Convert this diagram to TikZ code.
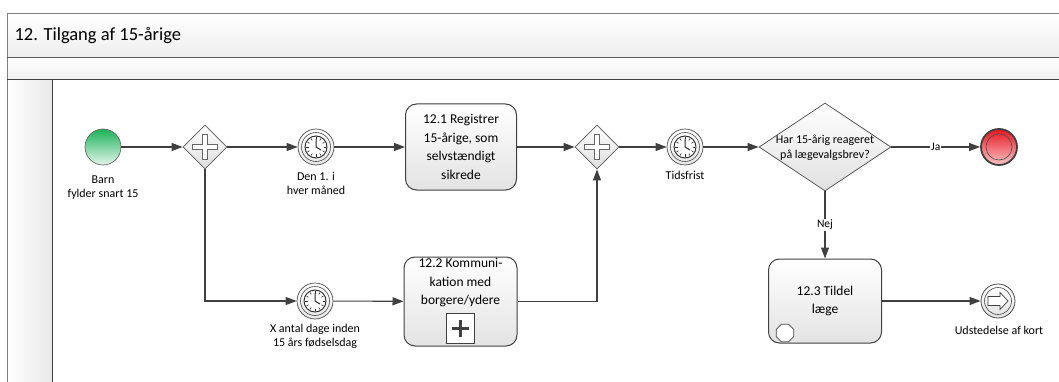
\documentclass[tikz,border=0pt]{standalone}
\usepackage{fontspec}
\setmainfont{Carlito}
\usepackage{xcolor}
\usetikzlibrary{arrows.meta,positioning,shapes.geometric}
\definecolor{startgreen}{RGB}{28,178,88}
\definecolor{endred}{RGB}{232,20,30}

\begin{document}
\begin{tikzpicture}[x=1pt,y=-1pt,
    flow/.style={-{Triangle[length=11pt,width=8pt]},line width=1.1pt,draw=black!75},
    task/.style={draw=black!75,line width=1pt,rounded corners=11pt,top color=white,bottom color=black!11,
        align=center,inner sep=0pt,font=\fontsize{13.5}{18.5}\selectfont},
    gate/.style={diamond,aspect=1,draw=black!65,line width=0.8pt,top color=white,bottom color=black!13,
        minimum size=44pt,inner sep=0pt,
        path picture={\draw[black!60,fill=white,line width=0.6pt,shift={(path picture bounding box.center)}]
            (-2.5pt,-12.5pt) -- (2.5pt,-12.5pt) -- (2.5pt,-2.5pt) -- (12.5pt,-2.5pt) -- (12.5pt,2.5pt)
            -- (2.5pt,2.5pt) -- (2.5pt,12.5pt) -- (-2.5pt,12.5pt) -- (-2.5pt,2.5pt) -- (-12.5pt,2.5pt)
            -- (-12.5pt,-2.5pt) -- (-2.5pt,-2.5pt) -- cycle;}},
    clock/.style={circle,draw=black!70,line width=0.7pt,top color=white,bottom color=black!10,
        minimum size=36pt,inner sep=0pt,
        path picture={
            \draw[black!70,line width=0.6pt,shift={(path picture bounding box.center)}] (0,0) circle (14.5pt);
            \draw[black!85,line width=0.9pt,fill=white,shift={(path picture bounding box.center)}] (0,0) circle (11pt);
            \foreach \a in {0,30,...,330}
                \draw[black!85,line width=0.6pt,shift={(path picture bounding box.center)}] (\a:7.5pt) -- (\a:9.8pt);
            \draw[black!85,line width=1pt,shift={(path picture bounding box.center)}] (0pt,8pt) -- (0pt,0pt) -- (5pt,-3pt);}},
    lbl/.style={align=center,text=black,font=\fontsize{12}{14.5}\selectfont},
]
\useasboundingbox (0,0) rectangle (1059,382);

% Pool and lane
\fill[top color=white,bottom color=black!7] (7,14) rectangle (1059,58);
\fill[top color=white,bottom color=black!6] (7,58) rectangle (1059,80);
\fill[left color=white,right color=black!9] (7,80) rectangle (52,382);
\draw[black!50,line width=1pt] (1059,14) -- (7,14) -- (7,382);
\draw[black!65,line width=1pt] (7,58) -- (1059,58);
\draw[black!75,line width=1pt] (7,80) -- (1059,80);
\draw[black!75,line width=1pt] (52,80) -- (52,382);
\node[anchor=west,text=black,font=\fontsize{18.5}{21}\selectfont] (title) at (11,36) {12. Tilgang af 15-årige};

% Start event
\node[circle,draw=black!60,line width=0.7pt,top color=startgreen,bottom color=startgreen!12,
    minimum size=36pt,inner sep=0pt] (start) at (103,147) {};
\node[lbl] (start-lbl) at (103,187.5) {Barn\\fylder snart 15};

% Split
\node[gate] (g1) at (205,147) {};

% Timers
\node[clock] (t1) at (316,147) {};
\node[lbl] (t1-lbl) at (316,183.5) {Den 1. i\\hver måned};
\node[clock] (t2) at (315,301) {};
\node[lbl] (t2-lbl) at (315,336.5) {X antal dage inden\\15 års fødselsdag};

% Tasks
\node[task,minimum width=111pt,minimum height=86pt] (k1) at (461,147) {12.1 Registrer\\15-årige, som\\selvstændigt\\sikrede};
\node[task,minimum width=113pt,minimum height=89pt] (k2) at (460.5,301.5) {};
\node[align=center,inner sep=0pt,font=\fontsize{13.5}{18.5}\selectfont] (k2-txt) at (460.5,283) {12.2 Kommuni-\\kation med\\borgere/ydere};
\node[draw=black!75,line width=0.8pt,fill=white,minimum width=28pt,minimum height=30pt,inner sep=0pt,
    path picture={\draw[line width=2.2pt,shift={(path picture bounding box.center)}]
        (-8.5pt,0pt) -- (8.5pt,0pt) (0pt,-8.5pt) -- (0pt,8.5pt);}] (k2-plus) at (460.5,328.5) {};

% Join
\node[gate] (g2) at (597,147) {};

% Deadline
\node[clock] (t3) at (685,147) {};
\node[lbl] (t3-lbl) at (685,175) {Tidsfrist};

% Decision
\node[diamond,draw=black!65,line width=0.8pt,top color=white,bottom color=black!12,
    minimum width=132pt,minimum height=88pt,inner sep=0pt] (q) at (825,147) {};
\node[align=center,text=black,font=\fontsize{12}{14.5}\selectfont] (q-txt) at (825,148) {Har 15-årig reageret\\på lægevalgsbrev?};

% End event
\node[circle,draw=black!75,line width=1.8pt,top color=endred,bottom color=endred!25,
    minimum size=36pt,inner sep=0pt,
    path picture={\draw[black!70,line width=0.6pt,shift={(path picture bounding box.center)}] (0,0) circle (13pt);}] (stop) at (999,147) {};

% Task 12.3
\node[task,minimum width=113pt,minimum height=84pt] (k3) at (825,301) {12.3 Tildel\\læge};
\node[regular polygon,regular polygon sides=8,draw=black!70,line width=0.7pt,fill=white,
    minimum size=19pt,inner sep=0pt] (k3-ico) at (785,333) {};

% Link event
\node[circle,draw=black!70,line width=0.8pt,top color=white,bottom color=black!12,
    minimum size=34pt,inner sep=0pt,
    path picture={
        \draw[black!70,line width=0.6pt,shift={(path picture bounding box.center)}] (0,0) circle (13.5pt);
        \draw[black!75,line width=0.7pt,fill=white,shift={(path picture bounding box.center)}]
            (-10pt,4.5pt) -- (2pt,4.5pt) -- (2pt,8.5pt) -- (10pt,0pt) -- (2pt,-8.5pt) -- (2pt,-4.5pt) -- (-10pt,-4.5pt) -- cycle;}] (link) at (998,301) {};
\node[lbl] (link-lbl) at (999,330) {Udstedelse af kort};

% Flows
\draw[flow] (start) -- (g1);
\draw[flow] (g1) -- (t1);
\draw[flow] (t1) -- (k1);
\draw[flow] (k1) -- (g2);
\draw[flow] (g1.south) |- (t2);
\draw[flow] (t2) -- (k2);
\draw[flow] (k2) -| (g2.south);
\draw[flow] (g2) -- (t3);
\draw[flow] (t3) -- (q);
\draw[flow] (q) -- node[fill=white,inner sep=1pt,text=black,font=\fontsize{11.5}{13}\selectfont] (ja) {Ja} (stop);
\draw[flow] (q) -- node[fill=white,inner sep=1pt,text=black,font=\fontsize{11.5}{13}\selectfont] (nej) {Nej} (k3);
\draw[flow] (k3) -- (link);

\end{tikzpicture}
\end{document}
